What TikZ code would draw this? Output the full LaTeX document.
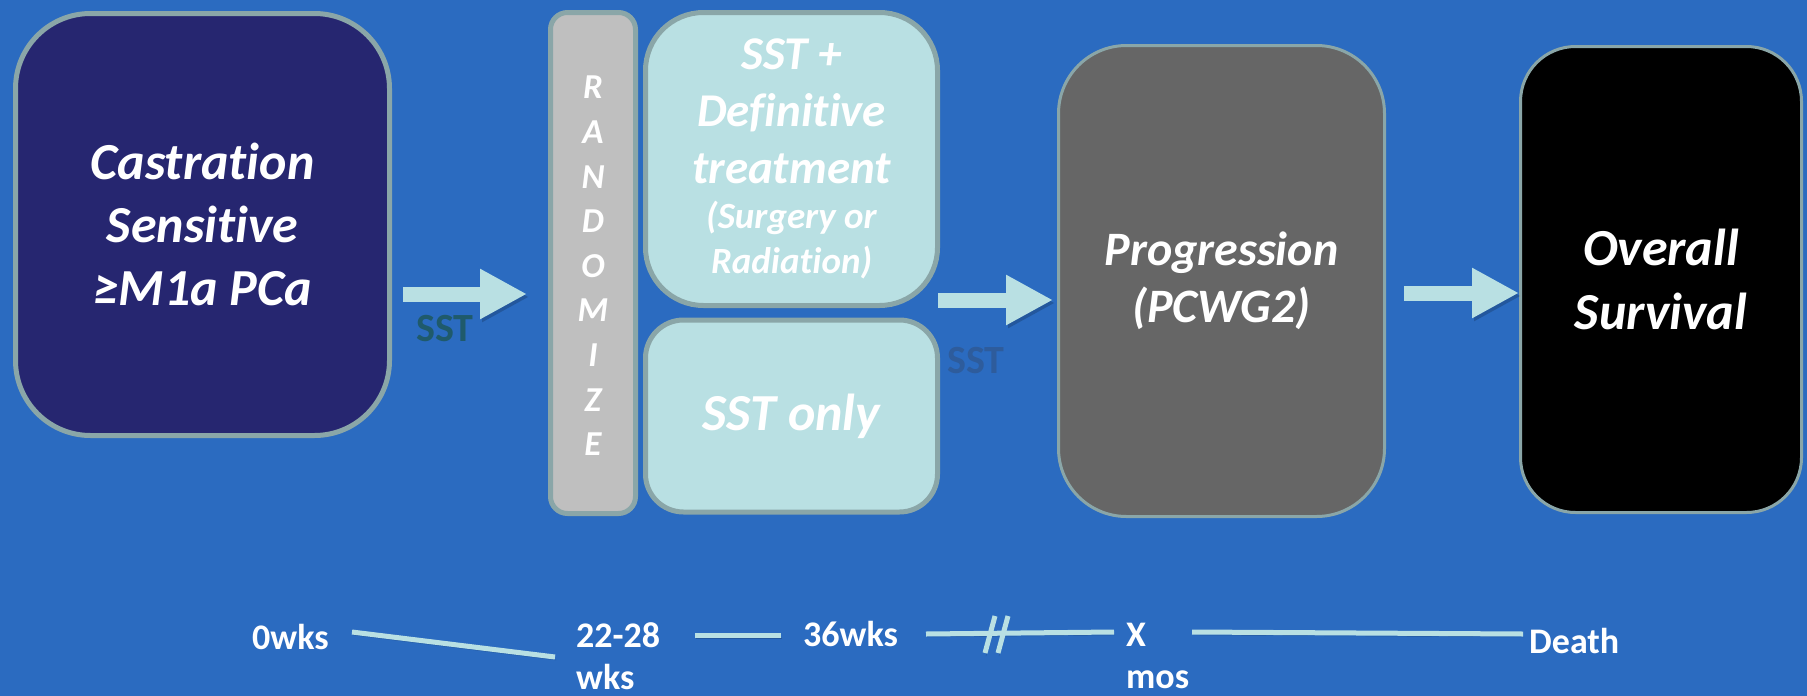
\documentclass[tikz,border=0pt]{standalone}
\usepackage{fontspec}
\setmainfont{Carlito}[Ligatures={NoCommon}]
\usetikzlibrary{arrows.meta}

\definecolor{bg}{HTML}{2B6BC0}
\definecolor{edge}{HTML}{8AA6A8}
\definecolor{navy}{HTML}{262670}
\definecolor{randgray}{HTML}{BFBFBF}
\definecolor{pale}{HTML}{B9E0E3}
\definecolor{progray}{HTML}{666666}
\definecolor{tealtxt}{HTML}{1F5A6B}
\definecolor{slatetxt}{HTML}{2E5C9C}

\newcommand{\subfont}{\fontsize{37}{45}\selectfont}

\begin{document}
\begin{tikzpicture}[x=1pt, y=-1pt,
  card/.style={draw=edge, text=white, align=center, inner sep=0pt},
  blockarrow/.style={draw=pale, line width=15pt,
    -{Triangle[width=47pt,length=47pt]},
    preaction={draw=black, opacity=0.18,
      transform canvas={shift={(2pt,-3pt)}}}},
  tline/.style={draw=pale, line width=5pt,
    preaction={draw=black, opacity=0.18,
      transform canvas={shift={(1pt,-3pt)}}}},
  tlabel/.style={text=white, inner sep=0pt, align=left,
    font=\bfseries\fontsize{36}{42}\selectfont},
  sstlabel/.style={inner sep=0pt, font=\bfseries\fontsize{40}{48}\selectfont}
]
% background
\fill[bg] (0,0) rectangle (1807,696);
\useasboundingbox (0,0) rectangle (1807,696);

% boxes
\node[card, fill=navy, line width=5pt, rounded corners=75pt,
  minimum width=374pt, minimum height=422pt,
  font=\bfseries\itshape\fontsize{52}{63}\selectfont]
  (cs) at (202.5,224.5) {Castration\\Sensitive\\≥M1a PCa};

\node[card, fill=randgray, line width=5pt, rounded corners=17pt,
  minimum width=85pt, minimum height=501pt]
  (rz) at (593,263) {};
\node[text=white, align=center, inner sep=0pt,
  font=\bfseries\itshape\fontsize{35}{44.6}\selectfont]
  (rzt) at (593,266) {R\\A\\N\\D\\O\\M\\I\\Z\\E};

\node[card, fill=pale, line width=5pt, rounded corners=58pt,
  minimum width=292pt, minimum height=293pt,
  font=\bfseries\itshape\fontsize{47}{57}\selectfont]
  (def) at (791.5,159) {SST +\\Definitive\\treatment\\[-12pt]{\subfont (Surgery or}\\[-12pt]{\subfont Radiation)}};

\node[card, fill=pale, line width=5pt, rounded corners=38pt,
  minimum width=292pt, minimum height=192pt,
  font=\bfseries\itshape\fontsize{52}{63}\selectfont]
  (only) at (791.5,416) {SST only};

\node[card, fill=progray, line width=3pt, rounded corners=68pt,
  minimum width=326pt, minimum height=471pt,
  font=\bfseries\itshape\fontsize{48}{57}\selectfont]
  (prog) at (1221.5,281) {Progression\\(PCWG2)};

\node[card, fill=black, line width=3pt, rounded corners=55pt,
  minimum width=281pt, minimum height=466pt,
  font=\bfseries\itshape\fontsize{52}{64}\selectfont]
  (os) at (1661,279.5) {Overall\\Survival};

% block arrows between the stages
\draw[blockarrow, shorten <=11pt, shorten >=21pt] (cs.east |- 0,294) -- (rz.west |- 0,294);
\draw[blockarrow, shorten <=-2pt, shorten >=4pt] (def.east |- 0,300) -- (prog.west |- 0,300);
\draw[blockarrow, shorten <=18pt] (prog.east |- 0,293) -- (os.west |- 0,293);

% arrow labels
\node[sstlabel, text=tealtxt, anchor=base] (sst1) at (445,341) {SST};
\node[sstlabel, text=slatetxt, anchor=base] (sst2) at (976,373) {SST};

% timeline labels
\node[tlabel, anchor=west] (t0) at (252,637) {0wks};
\node[tlabel, anchor=north west] (t1) at (576,622) {22-28\\wks};
\node[tlabel, anchor=west] (t2) at (803,634) {36wks};
\node[tlabel, anchor=north west] (t3) at (1126,623) {X\\mos};
\node[tlabel, anchor=west] (t4) at (1529,641) {Death};

% timeline segments
\coordinate (l1a) at (352,632); \coordinate (l1b) at (555,657);
\coordinate (l2a) at (695,635); \coordinate (l2b) at (781,635);
\coordinate (l3a) at (926,634); \coordinate (l3b) at (1114,632);
\coordinate (l4a) at (1192,632); \coordinate (l4b) at (1523,634);
\draw[tline] (l1a) -- (l1b);
\draw[tline] (l2a) -- (l2b);
\draw[tline] (l3a) -- (l3b);
\draw[tline] (l4a) -- (l4b);
% axis break
\coordinate (b1a) at (995,616); \coordinate (b1b) at (985,653);
\coordinate (b2a) at (1008,616); \coordinate (b2b) at (998,653);
\draw[tline] (b1a) -- (b1b);
\draw[tline] (b2a) -- (b2b);
\end{tikzpicture}
\end{document}
